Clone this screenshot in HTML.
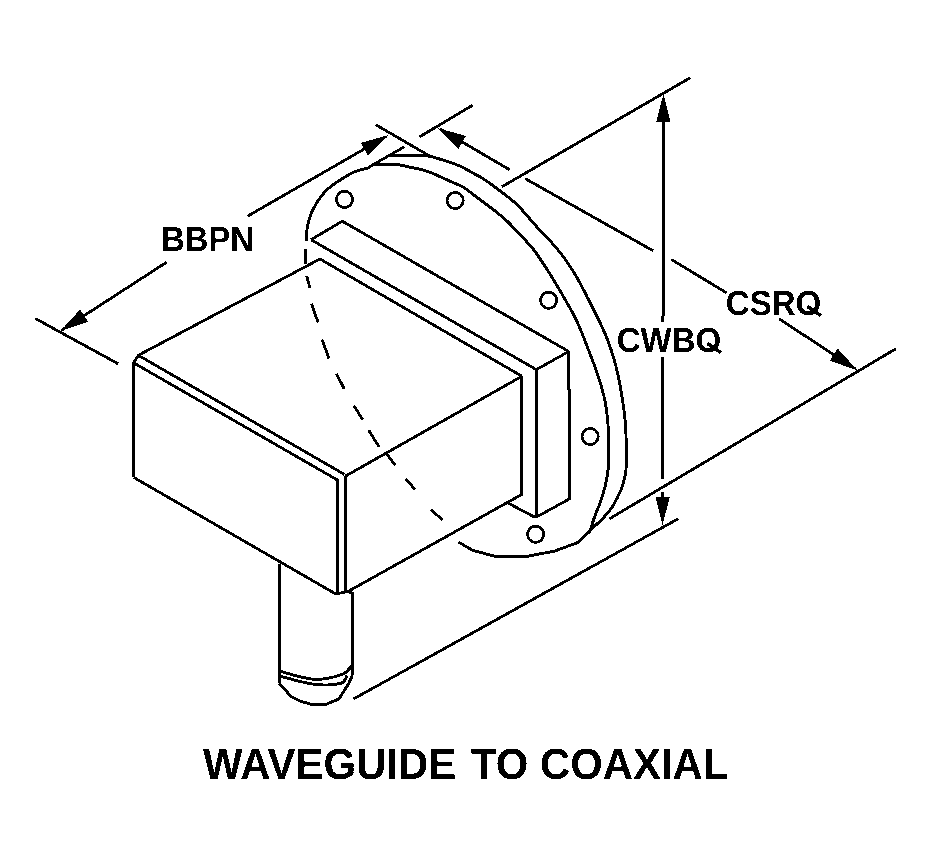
<!DOCTYPE html>
<html><head><meta charset="utf-8"><title>Waveguide to Coaxial</title>
<style>html,body{margin:0;padding:0;background:#fff;width:944px;height:852px;overflow:hidden}svg{display:block}
text{font-family:"Liberation Sans",sans-serif;font-weight:bold;text-rendering:geometricPrecision}</style></head>
<body>
<svg width="944" height="852" viewBox="0 0 944 852">
<g fill="none" stroke="#000" stroke-linecap="butt" stroke-linejoin="miter" stroke-miterlimit="1.9" shape-rendering="crispEdges">
<line x1="35.3" y1="318.5" x2="118.1" y2="363.8" stroke-width="2.8"/>
<line x1="61.5" y1="330.3" x2="166.5" y2="262.3" stroke-width="2.8"/>
<polygon points="60.2,331.2 88.1,321.8 80.1,309.6" fill="#000" stroke="none"/>
<line x1="247.5" y1="216.2" x2="386" y2="136.5" stroke-width="2.8"/>
<polygon points="389,135 360.6,142.9 367.9,155.5" fill="#000" stroke="none"/>
<line x1="375.5" y1="124.6" x2="430" y2="156.2" stroke-width="2.8"/>
<line x1="419.6" y1="136.8" x2="472.5" y2="105.3" stroke-width="2.8"/>
<line x1="440" y1="129" x2="509.7" y2="169.8" stroke-width="2.8"/>
<polygon points="437.6,128 458.6,148.6 465.9,136" fill="#000" stroke="none"/>
<line x1="525.2" y1="178.6" x2="653" y2="250.7" stroke-width="2.8"/>
<line x1="671.2" y1="259.4" x2="726.5" y2="292.8" stroke-width="2.8"/>
<line x1="779.2" y1="318.9" x2="855" y2="368.6" stroke-width="2.8"/>
<polygon points="857.5,370.3 837.7,348.6 829.7,360.8" fill="#000" stroke="none"/>
<line x1="502" y1="186.7" x2="690.5" y2="77.6" stroke-width="2.8"/>
<line x1="609.4" y1="518.8" x2="895.8" y2="348.8" stroke-width="2.8"/>
<line x1="353.5" y1="699" x2="678.5" y2="518.6" stroke-width="2.8"/>
<line x1="663.5" y1="110" x2="663" y2="322.3" stroke-width="3"/>
<polygon points="663.5,93.8 656.1,122.3 670.7,122.3" fill="#000" stroke="none"/>
<line x1="662.9" y1="357.2" x2="662.6" y2="479.4" stroke-width="3"/>
<line x1="662.6" y1="492" x2="662.5" y2="510" stroke-width="3"/>
<polygon points="662.5,525 669.9,496.5 655.3,496.5" fill="#000" stroke="none"/>
<line x1="707.5" y1="343.5" x2="721" y2="352.7" stroke-width="3.6"/>
<line x1="807.5" y1="306.5" x2="821" y2="315.7" stroke-width="3.6"/>
<polyline points="133.7,477.4 133.7,362.9 138.3,355.3 320,259 522,376.3" stroke-width="2.8"/><line x1="133.7" y1="477.4" x2="133.7" y2="362.9" stroke-width="3"/>
<line x1="133.7" y1="362.9" x2="338.3" y2="480.5" stroke-width="2.8"/>
<line x1="138.3" y1="355.3" x2="344.4" y2="474.4" stroke-width="2.8"/>
<polyline points="133.7,477.4 335.8,594 348.2,591.4 521.8,494.4 521.8,376.3 345.5,476.1" stroke-width="2.8"/><line x1="521.8" y1="494.4" x2="521.8" y2="376.3" stroke-width="3"/>
<line x1="337.6" y1="478.8" x2="337.6" y2="594" stroke-width="3"/>
<line x1="345.5" y1="476.1" x2="345.5" y2="592.3" stroke-width="3"/>
<polyline points="311,239.7 342.3,221.2 568.8,351.5 536.3,369.6 311,239.7" stroke-width="2.8"/>
<polyline points="568.8,351.5 569.6,498.8 537.8,516.3 533,516.3 507,502.5" stroke-width="2.8"/><line x1="568.8" y1="351.5" x2="569.6" y2="498.8" stroke-width="3"/>
<line x1="536.3" y1="369.6" x2="536.3" y2="516.3" stroke-width="3"/>
<line x1="279.4" y1="564" x2="279.4" y2="683.4" stroke-width="3"/>
<polyline points="348.2,591.4 352.5,593.5 352.5,675.2" stroke-width="2.8"/><line x1="352.5" y1="593.5" x2="352.5" y2="675.2" stroke-width="3"/>
<path d="M279.4 671.1C285.2 672.5 303.7 678.8 314.2 679.3C324.7 679.8 336 676.6 342.2 674.4C348.4 672.2 349.7 667.6 351.2 666.2" stroke-width="2.9"/>
<path d="M279.4 676C285.2 677.4 304 683.1 314.2 684.3C324.4 685.5 335 684.9 340.5 683.4C346 681.9 346 676.6 347.1 675.2" stroke-width="2.9"/>
<polyline points="279.4,683.4 291.2,696.6 301.1,701.5 312.6,704.6 325.8,704.4 338.9,699 348.8,683.4 352.5,675.2" stroke-width="2.9"/>
<line x1="404.2" y1="146.9" x2="370.5" y2="166.2" stroke-width="2.8"/>
<path d="M306.5 241C306.6 239.1 306.7 233 307 229.8C307.3 226.6 307.8 224.5 308.5 221.8C309.2 219.2 309.9 216.6 311 213.9C312.1 211.2 313.5 208.6 315 205.9C316.5 203.2 318.2 200.4 320 197.9C321.8 195.4 323.8 193.1 325.9 190.9C328 188.7 330.2 186.9 332.9 184.9C335.6 182.9 338.7 180.9 341.9 178.9C345.1 176.9 348.6 174.6 351.9 173C355.2 171.4 359.1 170.3 361.8 169.5C364.5 168.7 366 168.8 367.8 168C369.6 167.2 371.7 165.5 372.5 165" stroke-width="2.9"/>
<path d="M372 164.6C376.1 164.6 390.4 164.2 396.7 164.6C402.9 165 405.6 166.3 409.5 167.1C413.4 167.9 416.6 168.5 420 169.3C423.4 170.2 426.6 170.9 430 172.2C433.4 173.5 437.1 175.3 440.6 176.9C444.1 178.5 447.2 179.9 451.1 181.7C455 183.5 459.9 185.2 463.8 187.5C467.7 189.8 470.9 192.8 474.4 195.4C477.9 198 481.4 200.7 484.9 203.3C488.4 206 492 208.5 495.5 211.3C499 214.1 502.9 217.3 506.1 220.2C509.3 223.1 512.2 226.3 514.5 228.7C516.8 231.1 516.7 230.8 520 234.5C523.3 238.2 529.6 244.3 534.5 250.8C539.4 257.3 545.1 266.4 549.5 273.3C553.9 280.2 556.7 285.1 560.8 292.1C564.9 299.1 570.7 309 574.1 315.5C577.5 322 578.8 325.4 581.1 331C583.5 336.6 585.9 343.2 588.2 349.3C590.6 355.4 593.1 361.7 595.2 367.6C597.3 373.5 599.1 378.9 600.8 384.5C602.4 390.1 604 395.5 605.1 401.4C606.2 407.3 607 414.4 607.6 420C608.2 425.6 608.4 429.8 608.6 435C608.8 440.2 608.7 445.4 608.6 451.1C608.5 456.8 608.7 463.4 608.1 469.2C607.5 474.9 606.6 480.1 605.3 485.6C604 491.1 602.2 496.8 600.4 502C598.6 507.2 596.3 512 594.6 516.8C592.9 521.6 590.8 528.6 590 531" stroke-width="2.9"/>
<polyline points="590,531 578.7,542.2 554.9,551 527.9,556.2 494.5,556.2 472.2,550.2 458.5,542" stroke-width="2.9"/>
<path d="M388.3 155.3C393.2 155.3 410.9 155.1 417.9 155.3C424.8 155.5 426.4 155.7 430 156.3C433.6 156.9 436 157.9 439.5 159C443 160.1 447.4 161.4 451.1 162.7C454.8 164 458.2 165.2 461.7 166.9C465.2 168.6 468.8 170.8 472.3 172.7C475.8 174.6 479.3 176.3 482.8 178.5C486.3 180.7 489.9 183.3 493.4 185.9C496.9 188.5 500.4 191.1 503.9 193.8C507.4 196.5 511.8 200 514.5 202.3C517.2 204.6 516.4 203.6 520 207.6C523.6 211.6 531.1 220.5 536.3 226.3C541.5 232.1 546.7 237 551.4 242.3C556.1 247.6 560.1 252.2 564.5 258.3C568.9 264.4 573.6 271.9 577.7 278.9C581.8 285.9 585.8 294.4 588.9 300.5C592 306.6 593.9 309.9 596.6 315.5C599.3 321.1 602.6 327.9 605.1 333.8C607.6 339.7 609.5 345.1 611.4 350.7C613.3 356.3 614.9 362 616.3 367.6C617.7 373.2 618.8 378.9 619.9 384.5C621 390.1 621.8 395.5 622.7 401.4C623.6 407.3 624.6 414.4 625.1 420C625.6 425.6 625.8 429.8 626 435C626.2 440.2 626.2 445.1 626.2 451.1C626.2 457.1 626.5 465.1 625.9 470.8C625.3 476.6 624 481.2 622.6 485.6C621.2 490 619.5 493.3 617.6 497.1C615.7 500.9 613.8 504.8 611.1 508.6C608.4 512.4 604.7 516.5 601.2 520.1C597.7 523.7 591.9 528.4 590 530" stroke-width="2.9"/>
<line x1="305.2" y1="249" x2="306" y2="264" stroke-width="3"/>
<line x1="306.8" y1="276.1" x2="309.8" y2="287.7" stroke-width="2.8"/>
<line x1="311.4" y1="303.6" x2="318.1" y2="322.5" stroke-width="2.8"/>
<line x1="322" y1="339.6" x2="329" y2="358.5" stroke-width="2.8"/>
<line x1="336.4" y1="373.7" x2="344.3" y2="389" stroke-width="2.8"/>
<line x1="354" y1="405.8" x2="362.6" y2="419.5" stroke-width="2.8"/>
<line x1="368.7" y1="430.2" x2="379.1" y2="447" stroke-width="2.8"/>
<line x1="386.1" y1="453" x2="395.2" y2="465.2" stroke-width="2.8"/>
<line x1="405.9" y1="479" x2="415.1" y2="489.6" stroke-width="2.8"/>
<line x1="431" y1="509.5" x2="442.5" y2="520.1" stroke-width="2.8"/>
<circle cx="344.5" cy="199.4" r="8.1" stroke-width="2.8"/>
<circle cx="455.2" cy="200.5" r="8.1" stroke-width="2.8"/>
<circle cx="548.6" cy="300.3" r="8.1" stroke-width="2.8"/>
<circle cx="590.2" cy="436.5" r="8.1" stroke-width="2.8"/>
<circle cx="535.6" cy="534.3" r="8.1" stroke-width="2.8"/>
</g>
<defs><filter id="bin" x="0" y="0" width="944" height="852" filterUnits="userSpaceOnUse" color-interpolation-filters="sRGB"><feComponentTransfer><feFuncA type="discrete" tableValues="0 1"/></feComponentTransfer></filter></defs>
<g fill="#000" stroke="none" font-family="Liberation Sans, sans-serif" font-weight="bold" filter="url(#bin)">
<text x="161.2" y="251" font-size="34.88" textLength="92.78" lengthAdjust="spacingAndGlyphs">BBPN</text>
<text x="616.8" y="352" font-size="34.88" textLength="104.46" lengthAdjust="spacingAndGlyphs">CWBO</text>
<text x="725.8" y="315" font-size="34.88" textLength="95.47" lengthAdjust="spacingAndGlyphs">CSRO</text>
<text x="203" y="779" font-size="43.60" textLength="253.21" lengthAdjust="spacingAndGlyphs">WAVEGUIDE</text>
<text x="471" y="779" font-size="43.60" textLength="257.21" lengthAdjust="spacingAndGlyphs">TO COAXIAL</text>
</g>
</svg>
</body></html>
